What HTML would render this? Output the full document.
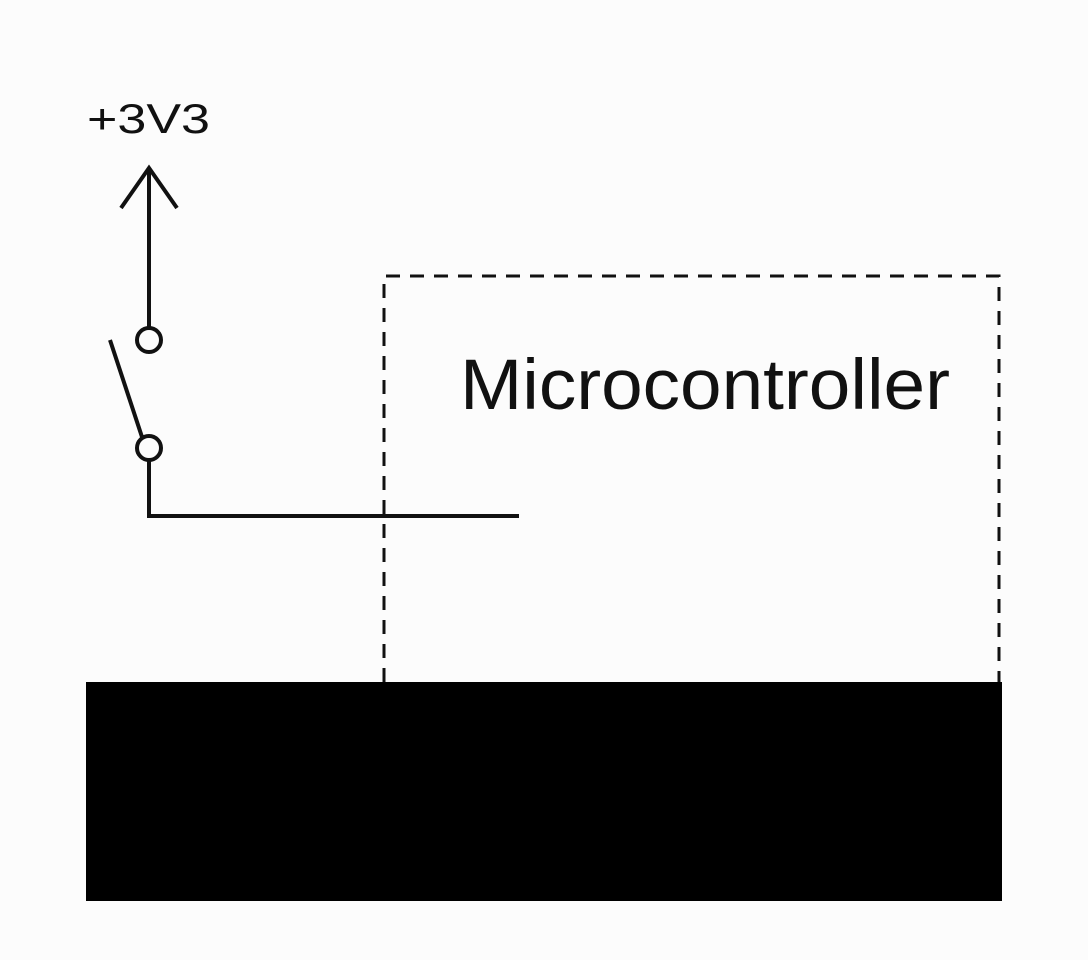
<!DOCTYPE html>
<html><head><style>html,body{margin:0;padding:0;background:#fcfcfc;}</style></head>
<body>
<svg width="1088" height="960" xmlns="http://www.w3.org/2000/svg" style="display:block">
<rect width="1088" height="960" fill="#fcfcfc"/>
<text x="87" y="133" font-family="Liberation Sans, sans-serif" font-size="42" textLength="123" lengthAdjust="spacingAndGlyphs" fill="#111">+3V3</text>
<g stroke="#111" stroke-width="4" fill="none">
<line x1="149" y1="168" x2="149" y2="328"/>
<polyline points="121,208 149,168 177,208"/>
<circle cx="149" cy="340" r="12" fill="#fcfcfc"/>
<line x1="110" y1="340" x2="142" y2="437"/>
<circle cx="149" cy="448" r="12" fill="#fcfcfc"/>
<polyline points="149,460 149,516 519,516"/>
</g>
<g stroke="#111" stroke-width="3" fill="none" stroke-dasharray="14,10">
<polyline points="384,682 384,276 999,276 999,682"/>
</g>
<text x="460" y="409" font-family="Liberation Sans, sans-serif" font-size="71" textLength="490" lengthAdjust="spacingAndGlyphs" fill="#111">Microcontroller</text>
<rect x="86" y="682" width="916" height="219" fill="#000"/>
</svg>
</body></html>
